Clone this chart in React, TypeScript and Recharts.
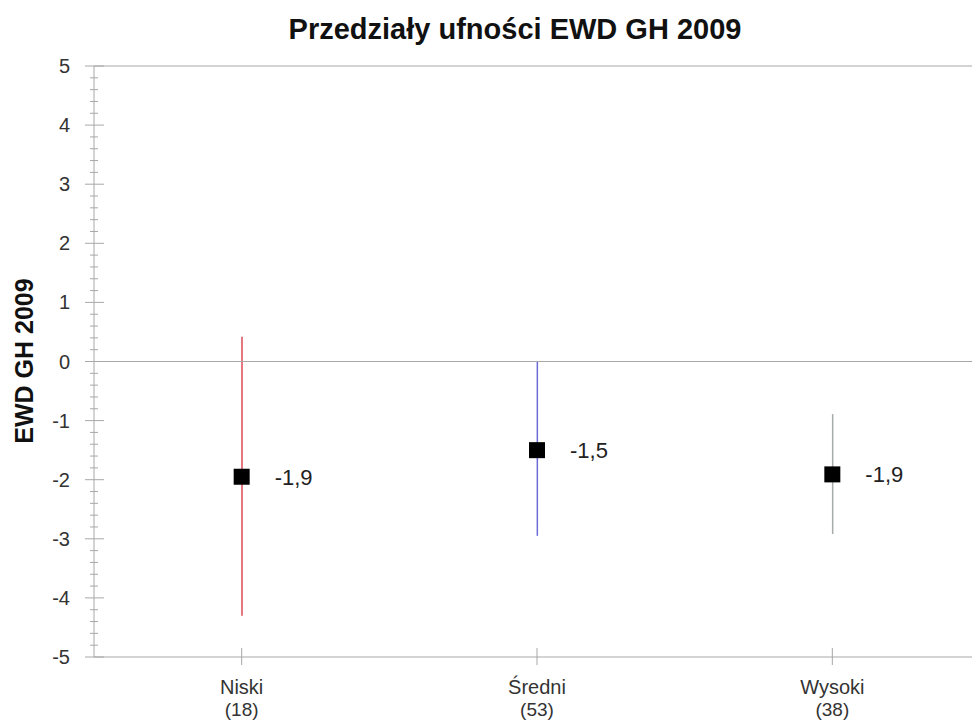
import React from "react";
import { ComposedChart, Bar, Scatter, XAxis, YAxis, ReferenceLine } from "recharts";

const categories = ["Niski", "Średni", "Wysoki"];
const counts = ["(18)", "(53)", "(38)"];
const means = [-1.95, -1.5, -1.91];
const lower = [-4.3, -2.95, -2.92];
const upper = [0.42, 0, -0.89];
const pointLabels = ["-1,9", "-1,5", "-1,9"];
const lineColors = ["#dc4a56", "#6c6cd8", "#a6abab"];

// major ticks -5..5, minor every 0.2
const yTicks = Array.from({ length: 51 }, (_, i) => Math.round((-5 + i * 0.2) * 10) / 10);

const data = categories.map((name, i) => ({
  name,
  count: counts[i],
  mean: means[i],
  ci: [lower[i], upper[i]],
  label: pointLabels[i],
  color: lineColors[i],
}));

const FONT = "Arial, 'Liberation Sans', Helvetica, sans-serif";
const AXIS = "#a8a8a8";

const YTick = (props: any) => {
  const { x, y, payload } = props;
  const major = Number.isInteger(payload.value);
  return (
    <g>
      <line x1={major ? x - 9 : x - 4} x2={major ? x + 10 : x + 4} y1={y} y2={y} stroke={AXIS} strokeWidth={1} />
      {major && (
        <text x={x - 24} y={y} dy={7} textAnchor="end" fontSize={20} fill="#333" fontFamily={FONT}>
          {payload.value}
        </text>
      )}
    </g>
  );
};

const XTick = (props: any) => {
  const { x, y, payload, index } = props;
  return (
    <g>
      <line x1={x} x2={x} y1={y - 9} y2={y + 8} stroke={AXIS} strokeWidth={1} />
      <text x={x} y={y + 37} textAnchor="middle" fontSize={20} fill="#333" fontFamily={FONT}>
        {payload.value}
      </text>
      <text x={x} y={y + 59} textAnchor="middle" fontSize={19} fill="#333" fontFamily={FONT}>
        {counts[index]}
      </text>
    </g>
  );
};

const RangeLine = (props: any) => {
  const { x, y, width, height, payload } = props;
  const top = Math.min(y, y + height);
  const bottom = Math.max(y, y + height);
  const cx = x + width / 2;
  return <line x1={cx} x2={cx} y1={top} y2={bottom} stroke={payload.color} strokeWidth={1.5} />;
};

const PointMark = (props: any) => {
  const { cx, cy, payload } = props;
  return (
    <g>
      <rect x={cx - 8} y={cy - 8} width={16} height={16} fill="#000" />
      <text x={cx + 33} y={cy} dy={8} fontSize={22} fill="#222" fontFamily={FONT}>
        {payload.label}
      </text>
    </g>
  );
};

export default function App() {
  return (
    <div
      style={{
        position: "absolute",
        left: 0,
        top: 0,
        width: 972,
        height: 722,
        overflow: "hidden",
        background: "#fff",
        fontFamily: FONT,
      }}
    >
      <ComposedChart width={1000} height={722} data={data} margin={{ top: 66, right: 20, bottom: 0, left: 0 }}>
        <XAxis
          dataKey="name"
          height={65}
          axisLine={{ stroke: AXIS }}
          tickLine={false}
          tickSize={0}
          tickMargin={0}
          tick={<XTick />}
          interval={0}
        />
        <YAxis
          type="number"
          domain={[-5, 5]}
          ticks={yTicks}
          interval={0}
          width={94}
          axisLine={{ stroke: AXIS }}
          tickLine={false}
          tickSize={0}
          tickMargin={0}
          tick={<YTick />}
        />
        <ReferenceLine y={5} stroke={AXIS} />
        <ReferenceLine y={0} stroke={AXIS} />
        <Bar dataKey="ci" barSize={10} shape={<RangeLine />} isAnimationActive={false} />
        <Scatter dataKey="mean" shape={<PointMark />} isAnimationActive={false} />
      </ComposedChart>
      <svg width={972} height={722} style={{ position: "absolute", left: 0, top: 0, pointerEvents: "none" }}>
        <text x={515} y={39} textAnchor="middle" fontSize={29} fontWeight="bold" fill="#111" fontFamily={FONT}>
          Przedziały ufności EWD GH 2009
        </text>
        <text
          transform="translate(33,361) rotate(-90)"
          textAnchor="middle"
          fontSize={25}
          fontWeight="bold"
          fill="#111"
          fontFamily={FONT}
        >
          EWD GH 2009
        </text>
      </svg>
    </div>
  );
}
